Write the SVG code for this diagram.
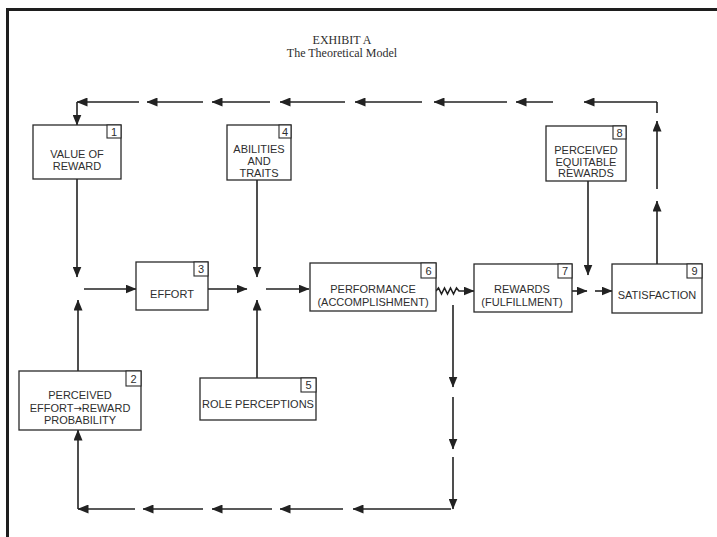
<svg xmlns="http://www.w3.org/2000/svg" width="717" height="537" viewBox="0 0 717 537">
  <style>
    .frame { stroke: #1e1e1e; stroke-width: 3; fill: none; }
    .box { fill: #ffffff; stroke: #2a2a2a; stroke-width: 1.3; }
    .num { fill: #ffffff; stroke: #2a2a2a; stroke-width: 1.1; }
    .lbl { font-family: "Liberation Sans", Arial, sans-serif; font-size: 11px; fill: #2e2e2e; text-anchor: middle; }
    .nlbl { font-family: "Liberation Sans", Arial, sans-serif; font-size: 11px; fill: #2e2e2e; text-anchor: middle; }
    .sym { font-family: "DejaVu Sans", sans-serif; font-size: 10px; }
    .title { font-family: "Liberation Serif", "Times New Roman", serif; font-size: 12px; fill: #2e2e2e; text-anchor: middle; }
    .conn line, .conn path { stroke: #222222; stroke-width: 1.6; fill: none; }
    .arr { marker-end: url(#head); }
  </style>
  <defs>
    <marker id="head" markerUnits="userSpaceOnUse" markerWidth="11" markerHeight="9" viewBox="0 0 11 9" refX="10.5" refY="4.5" orient="auto">
      <path d="M0,0 L11,4.5 L0,9 Z" fill="#222222"/>
    </marker>
  </defs>

  <rect width="717" height="537" fill="#ffffff"/>

  <!-- page frame -->
  <line class="frame" x1="6" y1="9.5" x2="717" y2="9.5"/>
  <line class="frame" x1="7.5" y1="8" x2="7.5" y2="537"/>

  <!-- heading -->
  <text class="title" x="342" y="44">EXHIBIT A</text>
  <text class="title" x="342" y="57">The Theoretical Model</text>

  <!-- connectors -->
  <g id="connectors" class="conn">
    <!-- feedback from satisfaction to value of reward -->
    <line class="arr" x1="657" y1="264" x2="657" y2="201"/>
    <line class="arr" x1="657" y1="189" x2="657" y2="121"/>
    <line x1="657" y1="113" x2="657" y2="102"/>
    <line class="arr" x1="657" y1="102" x2="584" y2="102"/>
    <line class="arr" x1="553" y1="102" x2="516" y2="102"/>
    <line class="arr" x1="507" y1="102" x2="434" y2="102"/>
    <line class="arr" x1="422" y1="102" x2="355" y2="102"/>
    <line class="arr" x1="345" y1="102" x2="280" y2="102"/>
    <line class="arr" x1="270" y1="102" x2="212" y2="102"/>
    <line class="arr" x1="203" y1="102" x2="147" y2="102"/>
    <line class="arr" x1="139" y1="102" x2="77" y2="102"/>
    <line class="arr" x1="77" y1="102" x2="77" y2="125"/>

    <!-- inputs to effort -->
    <line class="arr" x1="77" y1="179" x2="77" y2="277"/>
    <line class="arr" x1="78" y1="371" x2="78" y2="300"/>
    <line class="arr" x1="84" y1="289" x2="136" y2="289"/>

    <!-- inputs to performance -->
    <line class="arr" x1="208" y1="289" x2="247" y2="289"/>
    <line class="arr" x1="257" y1="180" x2="257" y2="277"/>
    <line class="arr" x1="257" y1="378" x2="257" y2="300"/>
    <line class="arr" x1="266" y1="289" x2="309" y2="289"/>

    <!-- performance to rewards (wavy link) -->
    <path class="arr" d="M436,291 l2.5,-3 l3,6 l3,-6 l3,6 l3,-6 l3,6 l3,-6 l2.5,3 L474,291"/>

    <!-- feedback from performance to effort-reward probability -->
    <line class="arr" x1="453" y1="305" x2="453" y2="387"/>
    <line class="arr" x1="453" y1="397" x2="453" y2="449"/>
    <line class="arr" x1="453" y1="457" x2="453" y2="509"/>
    <line class="arr" x1="451" y1="509" x2="353" y2="509"/>
    <line class="arr" x1="343" y1="509" x2="280" y2="509"/>
    <line class="arr" x1="272" y1="509" x2="212" y2="509"/>
    <line class="arr" x1="203" y1="509" x2="143" y2="509"/>
    <line class="arr" x1="135" y1="509" x2="78" y2="509"/>
    <line class="arr" x1="78" y1="509" x2="78" y2="430"/>

    <!-- rewards to satisfaction -->
    <line class="arr" x1="572" y1="291" x2="587" y2="291"/>
    <line class="arr" x1="588" y1="181" x2="588" y2="275"/>
    <line class="arr" x1="595" y1="291" x2="612" y2="291"/>
  </g>

  <!-- 1 value of reward -->
  <g id="n1">
    <rect class="box" x="33" y="125" width="88" height="54"/>
    <rect class="num" x="107" y="125" width="14" height="13"/>
    <text class="nlbl" x="114" y="135.5">1</text>
    <text class="lbl" x="77" y="158">VALUE OF</text>
    <text class="lbl" x="77" y="170">REWARD</text>
  </g>

  <!-- 2 perceived effort-reward probability -->
  <g id="n2">
    <rect class="box" x="19" y="371" width="122" height="59"/>
    <rect class="num" x="126" y="371" width="15" height="15"/>
    <text class="nlbl" x="133.5" y="382.5">2</text>
    <text class="lbl" x="80" y="399">PERCEIVED</text>
    <text class="lbl" x="80" y="412">EFFORT<tspan class="sym">→</tspan>REWARD</text>
    <text class="lbl" x="80" y="424">PROBABILITY</text>
  </g>

  <!-- 3 effort -->
  <g id="n3">
    <rect class="box" x="136" y="262" width="72" height="48"/>
    <rect class="num" x="194" y="262" width="14" height="14"/>
    <text class="nlbl" x="201" y="273">3</text>
    <text class="lbl" x="172" y="298">EFFORT</text>
  </g>

  <!-- 4 abilities and traits -->
  <g id="n4">
    <rect class="box" x="227" y="125" width="64" height="55"/>
    <rect class="num" x="279" y="125" width="12" height="13"/>
    <text class="nlbl" x="285" y="135.5">4</text>
    <text class="lbl" x="259" y="153">ABILITIES</text>
    <text class="lbl" x="259" y="165">AND</text>
    <text class="lbl" x="259" y="177">TRAITS</text>
  </g>

  <!-- 5 role perceptions -->
  <g id="n5">
    <rect class="box" x="200" y="378" width="116" height="42"/>
    <rect class="num" x="301" y="378" width="15" height="14"/>
    <text class="nlbl" x="308.5" y="389">5</text>
    <text class="lbl" x="258" y="408">ROLE PERCEPTIONS</text>
  </g>

  <!-- 6 performance -->
  <g id="n6">
    <rect class="box" x="310" y="263" width="126" height="48"/>
    <rect class="num" x="421" y="263" width="15" height="15"/>
    <text class="nlbl" x="428.5" y="274.5">6</text>
    <text class="lbl" x="373" y="293">PERFORMANCE</text>
    <text class="lbl" x="373" y="306">(ACCOMPLISHMENT)</text>
  </g>

  <!-- 7 rewards -->
  <g id="n7">
    <rect class="box" x="474" y="264" width="98" height="48"/>
    <rect class="num" x="558" y="264" width="14" height="14"/>
    <text class="nlbl" x="565" y="275">7</text>
    <text class="lbl" x="522" y="293">REWARDS</text>
    <text class="lbl" x="522" y="306">(FULFILLMENT)</text>
  </g>

  <!-- 8 perceived equitable rewards -->
  <g id="n8">
    <rect class="box" x="546" y="126" width="80" height="55"/>
    <rect class="num" x="613" y="126" width="13" height="13"/>
    <text class="nlbl" x="619.5" y="136.5">8</text>
    <text class="lbl" x="586" y="154">PERCEIVED</text>
    <text class="lbl" x="586" y="166">EQUITABLE</text>
    <text class="lbl" x="586" y="177">REWARDS</text>
  </g>

  <!-- 9 satisfaction -->
  <g id="n9">
    <rect class="box" x="612" y="264" width="90" height="49"/>
    <rect class="num" x="687" y="264" width="15" height="14"/>
    <text class="nlbl" x="694.5" y="275">9</text>
    <text class="lbl" x="657" y="299">SATISFACTION</text>
  </g>
</svg>
